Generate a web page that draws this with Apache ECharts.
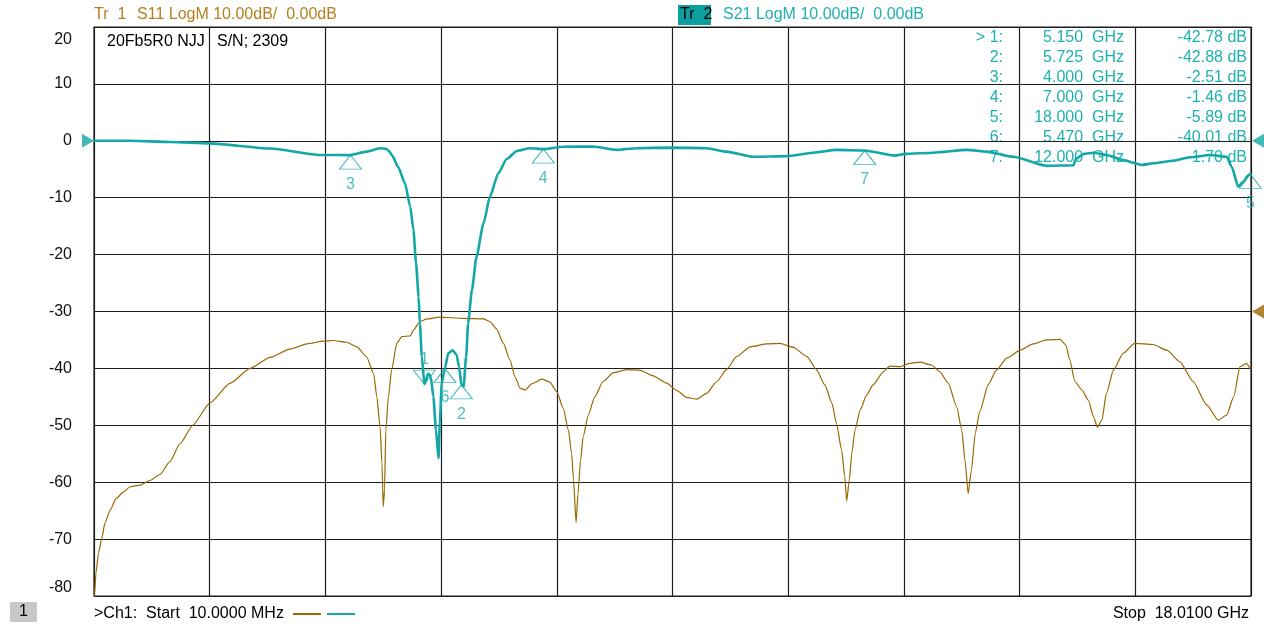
<!DOCTYPE html>
<html><head><meta charset="utf-8">
<script src="https://cdn.jsdelivr.net/npm/echarts@6/dist/echarts.min.js"></script>
<style>html,body{margin:0;padding:0;background:#fff}#c{width:1264px;height:624px}</style>
</head><body><div id="c"></div>
<script>
// ---- data ----
const START_GHZ = 0.01, STOP_GHZ = 18.01;
const Y_MIN = -80, Y_MAX = 20, Y_STEP = 10;
const traceTitles = ['S11 LogM 10.00dB/  0.00dB', 'S21 LogM 10.00dB/  0.00dB'];
const s11Trace = [
 [0.01,-82],[0.02,-79.5],[0.04,-76.0],[0.08,-72.5],[0.13,-69.9],[0.18,-67.2],[0.26,-64.9],[0.36,-62.8],
 [0.47,-61.7],[0.57,-60.8],[0.73,-60.5],[0.88,-59.7],[1.04,-58.6],[1.19,-56.4],[1.35,-53.2],[1.55,-49.95],
 [1.81,-46.1],[2.13,-42.6],[2.44,-40.0],[2.75,-38.05],[3.06,-36.6],[3.32,-35.7],[3.58,-35.2],[3.73,-35.1],
 [3.94,-35.4],[4.10,-36.2],[4.25,-37.95],[4.36,-40.9],[4.41,-45.0],[4.46,-50.2],[4.49,-56.7],[4.51,-64.3],
 [4.53,-61.4],[4.55,-50.8],[4.59,-45.0],[4.64,-40.3],[4.72,-35.6],[4.80,-34.4],[4.93,-34.3],[4.98,-33.25],
 [5.08,-31.8],[5.19,-31.3],[5.39,-31.0],[5.76,-31.2],[6.07,-31.3],[6.17,-31.8],[6.27,-33.0],[6.38,-35.6],
 [6.48,-38.5],[6.56,-41.5],[6.64,-43.5],[6.72,-43.8],[6.82,-42.7],[6.98,-41.9],[7.10,-42.4],[7.21,-44.1],
 [7.31,-47.0],[7.39,-50.8],[7.44,-54.9],[7.47,-59.6],[7.51,-67.1],[7.54,-62.0],[7.58,-56.1],[7.62,-52.0],
 [7.70,-48.2],[7.80,-45.0],[7.93,-42.3],[8.09,-40.75],[8.30,-40.2],[8.50,-40.3],[8.71,-41.3],[8.92,-42.6],
 [9.08,-43.9],[9.23,-45.1],[9.39,-45.4],[9.54,-44.4],[9.70,-42.3],[9.85,-40.2],[10.01,-37.9],[10.22,-36.2],
 [10.48,-35.7],[10.68,-35.6],[10.89,-36.3],[11.10,-37.9],[11.25,-40.2],[11.38,-42.9],[11.49,-46.1],[11.56,-49.6],
 [11.64,-54.3],[11.69,-59.0],[11.72,-63.3],[11.76,-59.6],[11.80,-54.9],[11.85,-50.8],[11.93,-47.3],[12.03,-44.7],
 [12.13,-42.9],[12.29,-40.6],[12.39,-39.6],[12.55,-39.7],[12.70,-39.1],[12.86,-38.9],[13.04,-39.4],[13.17,-40.6],
 [13.30,-42.6],[13.43,-46.7],[13.51,-50.8],[13.56,-56.1],[13.61,-62.0],[13.66,-57.9],[13.72,-51.4],[13.79,-47.6],
 [13.92,-42.9],[14.05,-40.3],[14.21,-38.2],[14.42,-36.8],[14.62,-35.7],[14.83,-35.0],[15.04,-34.9],[15.13,-35.9],
 [15.19,-38.5],[15.27,-42.3],[15.38,-43.8],[15.48,-45.6],[15.56,-48.5],[15.62,-50.35],[15.69,-49.1],[15.76,-44.4],
 [15.87,-40.3],[16.02,-37.35],[16.20,-35.6],[16.49,-35.8],[16.70,-36.8],[16.90,-38.8],[17.11,-42.3],[17.32,-46.4],
 [17.50,-49.1],[17.63,-48.2],[17.74,-45.0],[17.84,-39.7],[17.94,-39.1],[18.00,-40.0],[18.01,-39.8]
];
const s21Trace = [
 [0.01,0.0],[0.57,0.0],[1.20,-0.2],[1.81,-0.45],[2.75,-1.35],[3.53,-2.5],[4.00,-2.51],[4.25,-1.9],[4.46,-1.3],[4.55,-1.4],[4.59,-1.7],
 [4.65,-2.6],[4.74,-4.55],[4.85,-7.5],[4.93,-11.6],[4.98,-15.7],[5.02,-21.5],[5.06,-27.4],[5.08,-32.1],
 [5.11,-37.9],[5.15,-42.78],[5.21,-40.9],[5.25,-41.5],[5.29,-45.0],[5.33,-50.8],[5.37,-55.8],[5.39,-49.6],
 [5.42,-42.6],[5.47,-40.01],[5.52,-37.35],[5.59,-36.8],[5.65,-37.6],[5.69,-39.7],[5.725,-42.88],[5.76,-43.2],
 [5.80,-37.9],[5.83,-32.1],[5.89,-26.2],[5.96,-20.4],[6.07,-14.5],[6.17,-9.8],[6.30,-5.7],[6.43,-3.2],
 [6.59,-1.8],[6.79,-1.3],[7.00,-1.46],[7.31,-1.05],[7.78,-1.0],[8.14,-1.6],[8.45,-1.3],[9.02,-1.2],
 [9.54,-1.3],[9.85,-1.9],[10.27,-2.8],[10.79,-2.7],[11.20,-2.1],[11.56,-1.6],[12.00,-1.70],[12.47,-2.6],
 [12.63,-2.3],[13.07,-2.1],[13.59,-1.6],[13.90,-1.9],[14.31,-2.8],[14.83,-4.4],[15.25,-4.3],[15.28,-3.25],
 [15.41,-2.3],[15.56,-2.1],[15.76,-2.5],[16.02,-3.4],[16.31,-4.25],[16.49,-3.95],[16.80,-3.5],[17.06,-2.9],
 [17.37,-2.5],[17.63,-2.8],[17.71,-4.55],[17.81,-8.05],[17.89,-7.2],[17.97,-6.0],[18.00,-5.89],[18.01,-5.7]
];
const markerIds  = [1, 2, 3, 4, 5, 6, 7];
const markerFreq = [5.150, 5.725, 4.000, 7.000, 18.000, 5.470, 12.000];
const markerDb   = [-42.78, -42.88, -2.51, -1.46, -5.89, -40.01, -1.70];
const activeMarker = 1;
const refS21 = 0, refS11 = -30;
const infoTexts = ['20Fb5R0 NJJ', 'S/N; 2309'];
const footerStart = '>Ch1:  Start  10.0000 MHz';
const footerStop = 'Stop  18.0100 GHz';

// ---- chart ----
const BROWN = '#9a6700', BROWN_TXT = '#b5801e', TEAL = '#14a7a7', TEAL_TXT = '#1fb0b0';
const FONT = '"Liberation Sans", Arial, sans-serif';
const toX = f => +(f - START_GHZ).toFixed(5);
const span = +(STOP_GHZ - START_GHZ).toFixed(5);

const chart = echarts.init(document.getElementById('c'), null, {renderer: 'canvas'});

const markerData = markerIds.map((id, i) => {
  const active = id === activeMarker;
  return {
    value: [toX(markerFreq[i]), markerDb[i]], name: String(id),
    symbol: active ? 'path://M0,0 L22,0 L11,14 Z' : 'path://M11,0 L22,14 L0,14 Z',
    symbolOffset: active ? [0, -7] : [0, 7],
    label: active ? {position: 'top', distance: 2} : {position: 'bottom', distance: 7}
  };
});

const txt = (x, y, text, fill, align, extra) => Object.assign({
  type: 'text', x, y, silent: true,
  style: {text, fill, font: '16px ' + FONT, textAlign: align || 'left', textVerticalAlign: 'middle'}
}, extra || {});

const graphics = [
  txt(94, 15, 'Tr  1', BROWN_TXT),
  txt(137, 15, traceTitles[0], BROWN_TXT),
  {type: 'rect', shape: {x: 678, y: 5, width: 33, height: 20}, style: {fill: '#0b9f9f'}, silent: true},
  txt(680, 15, 'Tr  2', '#000'),
  txt(723, 15, traceTitles[1], TEAL_TXT),
  txt(107, 42, infoTexts[0], '#000'),
  txt(217, 42, infoTexts[1], '#000'),
  {type: 'rect', shape: {x: 10, y: 602, width: 27, height: 20}, style: {fill: '#c8c8c8'}, silent: true},
  txt(23.5, 612, '1', '#000', 'center'),
  txt(94, 614, footerStart, '#000'),
  {type: 'line', shape: {x1: 293, y1: 614, x2: 321, y2: 614}, style: {stroke: BROWN, lineWidth: 2}, silent: true},
  {type: 'line', shape: {x1: 327, y1: 614, x2: 355, y2: 614}, style: {stroke: TEAL, lineWidth: 2}, silent: true},
  txt(1249, 614, footerStop, '#000', 'right')
];
markerIds.forEach((id, i) => {
  const y = 38 + i * 20;
  graphics.push(txt(1003, y, (id === activeMarker ? '> ' : '') + id + ':', TEAL_TXT, 'right'));
  graphics.push(txt(1124, y, markerFreq[i].toFixed(3) + '  GHz', TEAL_TXT, 'right'));
  graphics.push(txt(1247, y, markerDb[i].toFixed(2) + ' dB', TEAL_TXT, 'right'));
});

chart.setOption({
  animation: false,
  backgroundColor: '#fff',
  grid: {left: 94, top: 27, right: 13, bottom: 28, show: true, borderColor: '#1e1e1e', borderWidth: 1.2, backgroundColor: '#fff'},
  xAxis: {
    type: 'value', min: 0, max: span, interval: span / 10,
    axisLabel: {show: false}, axisTick: {show: false}, axisLine: {show: false},
    splitLine: {show: true, lineStyle: {color: '#1e1e1e', width: 1.2}}
  },
  yAxis: {
    type: 'value', min: Y_MIN, max: Y_MAX, interval: Y_STEP,
    axisLine: {show: false}, axisTick: {show: false},
    axisLabel: {color: '#111', fontSize: 16, fontFamily: FONT, margin: 22,
      verticalAlignMaxLabel: 'top', verticalAlignMinLabel: 'bottom',
      formatter: v => v === Y_MAX ? '{mx|' + v + '}' : String(v),
      rich: {mx: {fontSize: 16, fontFamily: FONT, color: '#111', padding: [5, 0, 0, 0]}}},
    splitLine: {show: true, lineStyle: {color: '#1e1e1e', width: 1.2}}
  },
  series: [
    {type: 'line', name: 'S11', data: s11Trace.map(p => [toX(p[0]), p[1]]), showSymbol: false, symbol: 'none',
      smooth: 0.2, smoothMonotone: 'x', lineStyle: {color: BROWN, width: 1.2}, z: 3},
    {type: 'line', name: 'S21', data: s21Trace.map(p => [toX(p[0]), p[1]]), showSymbol: false, symbol: 'none',
      smooth: 0.2, smoothMonotone: 'x', lineStyle: {color: TEAL, width: 2.6}, z: 4},
    {type: 'scatter', name: 'markers', data: markerData, symbolSize: [22, 14], z: 5,
      itemStyle: {color: 'rgba(0,0,0,0)', borderColor: TEAL, borderWidth: 1},
      label: {show: true, formatter: p => p.name, color: TEAL_TXT, fontSize: 16, fontFamily: FONT}},
    {type: 'scatter', name: 'refs', clip: false, z: 6, silent: true,
      data: [
        {value: [0, refS21], symbol: 'path://M0,0 L12,7 L0,14 Z', symbolOffset: [-6, 0], itemStyle: {color: TEAL}},
        {value: [span, refS21], symbol: 'path://M12,0 L0,7 L12,14 Z', symbolOffset: [7, 0], itemStyle: {color: TEAL}},
        {value: [span, refS11], symbol: 'path://M12,0 L0,7 L12,14 Z', symbolOffset: [7, 0], itemStyle: {color: BROWN}}
      ],
      symbolSize: [12, 14]}
  ],
  graphic: graphics
});
</script></body></html>
